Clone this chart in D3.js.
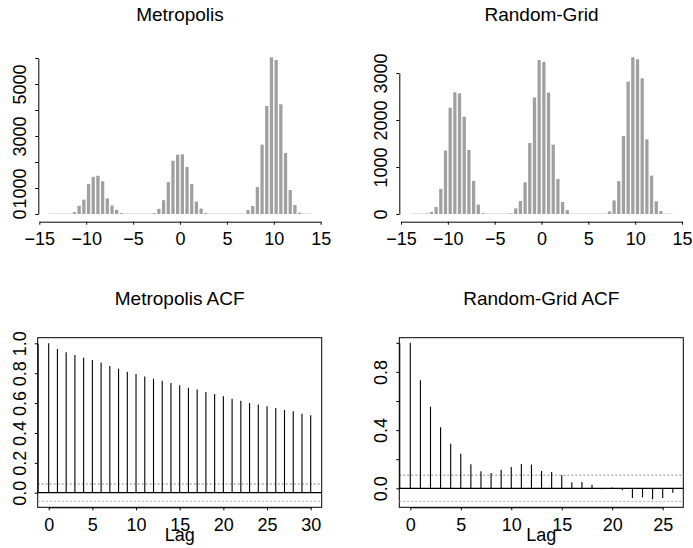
<!DOCTYPE html>
<html>
<head>
<meta charset="utf-8">
<script src="https://cdn.jsdelivr.net/npm/d3@7"></script>
<style>
  html, body { margin: 0; padding: 0; background: #fff; }
  svg { display: block; font-family: "Liberation Sans", Arial, Helvetica, sans-serif; }
</style>
</head>
<body>
<svg id="chart" width="693" height="548"></svg>
<script>
// ---------------- DATA ----------------
const binBreaks = [-14,-13.5,-13,-12.5,-12,-11.5,-11,-10.5,-10,-9.5,-9,-8.5,-8,-7.5,-7,-6.5,-6,-5.5,-5,-4.5,-4,-3.5,-3,-2.5,-2,-1.5,-1,-0.5,0,0.5,1,1.5,2,2.5,3,3.5,4,4.5,5,5.5,6,6.5,7,7.5,8,8.5,9,9.5,10,10.5,11,11.5,12,12.5,13,13.5,14];

const metropolisCounts = [0,0,0,0,0,70,315,550,1150,1430,1470,1260,600,325,160,38,
  0,0,0,0,0,0,38,200,532,1225,2050,2282,2295,1808,1150,480,210,38,
  0,0,0,0,0,0,0,0,154,308,1038,2667,4154,6026,5923,4218,2346,923,346,51,0,0];

const randomGridCounts = [0,0,0,14,47,150,535,1348,2262,2589,2567,2071,1362,705,200,18,
  0,0,0,0,0,14,121,277,674,1511,2482,3277,3234,2582,1475,745,255,85,
  0,0,0,0,0,0,0,0,55,290,700,1660,2816,3333,3291,2887,1589,816,270,64,0,0];

const histXTicks = [-15,-10,-5,0,5,10,15];
const metroHistYTicks = [0,1000,2000,3000,4000,5000,6000];
const metroHistYLabels = [0,1000,3000,5000];
const gridHistYTicks = [0,1000,2000,3000];
const gridHistYLabels = [0,1000,2000,3000];

const metropolisLags = [0,1,2,3,4,5,6,7,8,9,10,11,12,13,14,15,16,17,18,19,20,21,22,23,24,25,26,27,28,29,30];
const metropolisACF = [1.0,0.962,0.940,0.922,0.904,0.888,0.871,0.848,0.830,0.810,0.795,0.777,0.763,0.750,0.734,
  0.719,0.703,0.690,0.674,0.661,0.645,0.629,0.616,0.600,0.591,0.578,0.567,0.554,0.545,0.529,0.518];
const metropolisCI = 0.058;

const randomGridLags = [0,1,2,3,4,5,6,7,8,9,10,11,12,13,14,15,16,17,18,19,20,21,22,23,24,25,26];
const randomGridACF = [1.0,0.742,0.561,0.419,0.307,0.238,0.165,0.117,0.105,0.128,0.147,0.167,0.163,0.119,0.112,
  0.089,0.041,0.044,0.025,-0.007,0.005,-0.014,-0.066,-0.062,-0.076,-0.066,-0.030];
const randomGridCI = 0.09;

const metroACFXTicks = [0,5,10,15,20,25,30];
const metroACFYTicks = [0,0.2,0.4,0.6,0.8,1.0];
const metroACFYLabels = [0,0.2,0.4,0.6,0.8,1.0];
const gridACFXTicks = [0,5,10,15,20,25];
const gridACFYTicks = [0,0.2,0.4,0.6,0.8,1.0];
const gridACFYLabels = [0,0.4,0.8];

// ---------------- DRAWING ----------------
const svg = d3.select("#chart");
const TICK_FS = 18, TITLE_FS = 19;

function title(txt, cx, y) {
  svg.append("text").attr("x", cx).attr("y", y).attr("text-anchor", "middle")
    .attr("font-size", TITLE_FS).attr("fill", "#000").text(txt);
}

function styleAxis(g) {
  g.selectAll("path.domain").attr("stroke", "#000").attr("stroke-width", 1);
  g.selectAll(".tick line").attr("stroke", "#000").attr("stroke-width", 1);
}

function yAxisRotated(g, scale, ticks, labels, fmt, x0) {
  const ax = d3.axisLeft(scale).tickValues(ticks).tickSize(3).tickSizeOuter(0)
    .tickFormat(d => labels.some(l => Math.abs(l - d) < 1e-9) ? fmt(d) : "");
  const a = g.append("g").attr("transform", `translate(${x0},0)`).call(ax);
  styleAxis(a);
  a.selectAll(".tick text")
    .attr("transform", "rotate(-90)")
    .attr("x", 0).attr("y", -12).attr("dy", 0)
    .attr("text-anchor", "middle")
    .attr("font-size", TICK_FS).attr("font-family", "Liberation Sans, Arial, sans-serif").attr("fill", "#000");
  return a;
}

function xAxis(g, scale, ticks, y0, fmt) {
  const ax = d3.axisBottom(scale).tickValues(ticks).tickSize(3).tickSizeOuter(0).tickFormat(fmt);
  const a = g.append("g").attr("transform", `translate(0,${y0})`).call(ax);
  styleAxis(a);
  a.selectAll(".tick text").attr("y", 0).attr("dy", 0)
    .attr("transform", "translate(0,23.5)")
    .attr("font-size", TICK_FS).attr("font-family", "Liberation Sans, Arial, sans-serif").attr("fill", "#000");
  return a;
}

function histogram(cfg) {
  const g = svg.append("g");
  const x = d3.scaleLinear().domain([-15, 15]).range(cfg.xRange);
  const y = d3.scaleLinear().domain([0, cfg.yTop]).range([214, cfg.yTopPx]);
  const bins = cfg.counts.map((c, i) => ({ x0: binBreaks[i], x1: binBreaks[i + 1], c }));
  g.selectAll("line.zero").data(bins.filter(b => b.c === 0)).join("line")
    .attr("x1", b => x(b.x0)).attr("x2", b => x(b.x1))
    .attr("y1", y(0) - 0.5).attr("y2", y(0) - 0.5)
    .attr("stroke", "#e2e2e2").attr("stroke-width", 1);
  g.selectAll("rect.bar").data(bins.filter(b => b.c > 0)).join("rect")
    .attr("x", b => x(b.x0) + 0.7)
    .attr("width", b => x(b.x1) - x(b.x0) - 1.4)
    .attr("y", b => y(b.c))
    .attr("height", b => y(0) - y(b.c))
    .attr("fill", "#a0a0a0");
  xAxis(g, x, histXTicks, 221.7, d3.format("d"));
  yAxisRotated(g, y, cfg.yTicks, cfg.yLabels, d3.format("d"), cfg.yAxisX);
  title(cfg.title, (cfg.xRange[0] + cfg.xRange[1]) / 2, 20.7);
}

histogram({ counts: metropolisCounts, xRange: [39.3, 320.7], yTop: 6000, yTopPx: 58,
  yTicks: metroHistYTicks, yLabels: metroHistYLabels, yAxisX: 38.3, title: "Metropolis" });
histogram({ counts: randomGridCounts, xRange: [401, 682], yTop: 3000, yTopPx: 73,
  yTicks: gridHistYTicks, yLabels: gridHistYLabels, yAxisX: 399.3, title: "Random-Grid" });

function acfPlot(cfg) {
  const g = svg.append("g");
  const [bx0, by0, bx1, by1] = cfg.box;
  const x = d3.scaleLinear().domain(cfg.xDomain).range(cfg.xRange);
  const y = d3.scaleLinear().domain([0, 1]).range(cfg.yRange);
  g.append("rect").attr("x", bx0).attr("y", by0).attr("width", bx1 - bx0).attr("height", by1 - by0)
    .attr("fill", "none").attr("stroke", "#000").attr("stroke-width", 1);
  [cfg.ci, -cfg.ci].forEach((v, i) => {
    g.append("line").attr("x1", bx0).attr("x2", bx1).attr("y1", y(v)).attr("y2", y(v))
      .attr("stroke", i === 0 ? "#888" : "#aaa").attr("stroke-width", 1).attr("stroke-dasharray", "2,2");
  });
  g.append("line").attr("x1", bx0).attr("x2", bx1).attr("y1", y(0)).attr("y2", y(0))
    .attr("stroke", "#000").attr("stroke-width", 1.2);
  g.selectAll("line.spike").data(cfg.lags.map((l, i) => ({ l, v: cfg.acf[i] }))).join("line")
    .attr("x1", d => x(d.l)).attr("x2", d => x(d.l))
    .attr("y1", y(0)).attr("y2", d => y(d.v))
    .attr("stroke", "#000").attr("stroke-width", 1.1);
  xAxis(g, x, cfg.xTicks, by1, d3.format("d"));
  yAxisRotated(g, y, cfg.yTicks, cfg.yLabels, d3.format(".1f"), bx0);
  title(cfg.title, (bx0 + bx1) / 2, 305);
  g.append("text").attr("x", (bx0 + bx1) / 2).attr("y", 541).attr("text-anchor", "middle")
    .attr("font-size", TICK_FS).attr("fill", "#000").text("Lag");
}

acfPlot({ box: [37.7, 337.7, 321.7, 507.3], xDomain: [0, 30], xRange: [48.7, 310.7], yRange: [492.7, 343.3],
  lags: metropolisLags, acf: metropolisACF, ci: metropolisCI,
  xTicks: metroACFXTicks, yTicks: metroACFYTicks, yLabels: metroACFYLabels, title: "Metropolis ACF" });
acfPlot({ box: [399.3, 337.7, 683.3, 507.3], xDomain: [0, 25], xRange: [410.3, 662.7], yRange: [488.3, 342.8],
  lags: randomGridLags, acf: randomGridACF, ci: randomGridCI,
  xTicks: gridACFXTicks, yTicks: gridACFYTicks, yLabels: gridACFYLabels, title: "Random-Grid ACF" });
</script>
</body>
</html>
